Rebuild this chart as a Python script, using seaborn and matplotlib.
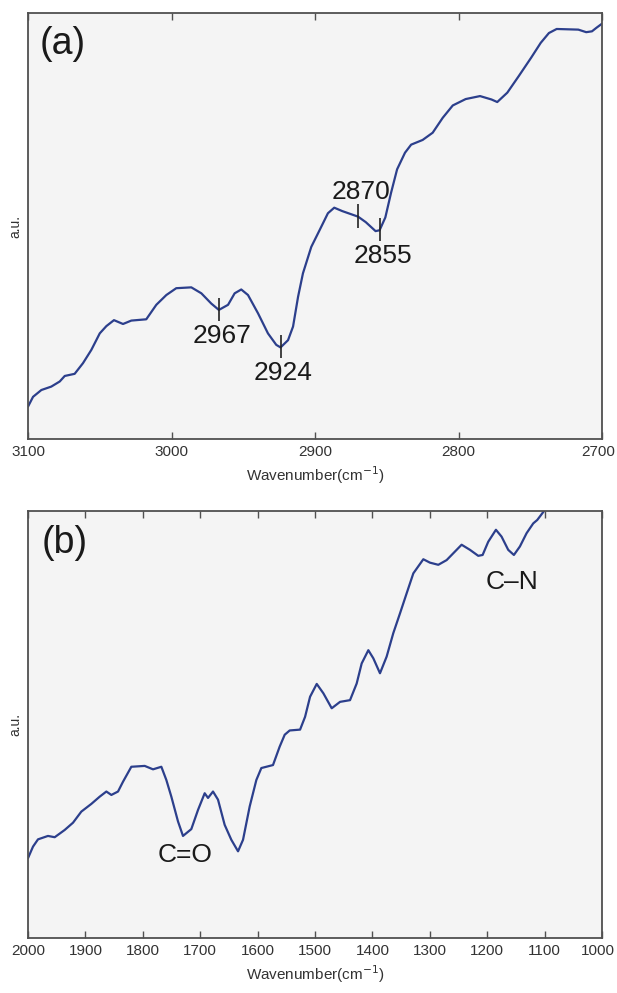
import matplotlib
matplotlib.use("Agg")
import matplotlib.pyplot as plt
import matplotlib.transforms as mtransforms
import seaborn as sns
import pandas as pd

# ---- Spectrum (a): C-H stretching region ----
wn_a = [3100, 3096.5, 3090.7, 3083.8, 3077.9, 3074.4, 3067.5, 3061.7, 3055.9,
        3050, 3045.4, 3040.1, 3033.8, 3028, 3017.6, 3010.6, 3003.6, 2996.7,
        2986.2, 2979.2, 2972.3, 2967, 2960.6, 2956, 2951.4, 2946.7, 2939.7,
        2932.8, 2927, 2924, 2918.8, 2915.3, 2911.8, 2908.4, 2902.6, 2896.7,
        2891, 2886.6, 2881, 2870, 2864.6, 2857.8, 2855, 2851, 2847, 2842.8,
        2837.3, 2833, 2825, 2818, 2811, 2804, 2795, 2785, 2777, 2773, 2766,
        2758, 2749.4, 2742.7, 2737, 2731.6, 2716.5, 2711, 2707, 2704, 2700]
int_a = [7.6, 9.9, 11.5, 12.3, 13.5, 14.8, 15.3, 17.8, 20.9,
         24.8, 26.5, 27.9, 27.0, 27.8, 28.1, 31.5, 33.8, 35.4,
         35.6, 34.2, 31.8, 30.3, 31.5, 34.2, 35.1, 33.8, 29.5,
         24.8, 22.1, 21.5, 23.2, 26.4, 33.4, 38.9, 45.1, 49.1,
         53.0, 54.3, 53.5, 52.2, 50.9, 48.8, 49.0, 52.0, 57.8, 63.3,
         67.2, 69.1, 70.2, 71.9, 75.4, 78.3, 79.8, 80.5, 79.7, 79.1, 81.3,
         85.2, 89.5, 93.0, 95.3, 96.25, 96.1, 95.5, 95.7, 96.5, 97.5]
peaks_a = [2967, 2924, 2870, 2855]
peak_labels_a = ["2967", "2924", "2870", "2855"]

# ---- Spectrum (b): fingerprint region ----
wn_b = [2000, 1991.3, 1982.6, 1965.2, 1953.5, 1936.1, 1921.6, 1907.1, 1889.7,
        1875.1, 1863.5, 1854.8, 1843.2, 1834.5, 1820, 1796.7, 1782.2, 1767.7,
        1759, 1750.3, 1738.7, 1730, 1715.5, 1703.8, 1692.2, 1686.4, 1677.7,
        1669, 1657.4, 1645.8, 1634.1, 1625.4, 1613.8, 1602.2, 1593.5, 1573.2,
        1561.6, 1552.8, 1544.1, 1526, 1517.3, 1508.6, 1497, 1485.4, 1470.9,
        1456.4, 1439, 1427.4, 1418.7, 1407.1, 1398.4, 1386.8, 1375.2, 1363.6,
        1352, 1340.4, 1328.7, 1311.3, 1299.7, 1285.2, 1270.7, 1256.2, 1244.6,
        1230, 1215.6, 1208, 1198.2, 1184.8, 1175, 1163.4, 1153.5, 1143,
        1131.4, 1119.8, 1112.8, 1101]
int_b = [18.7, 21.4, 23.1, 23.9, 23.6, 25.3, 27.0, 29.6, 31.4,
         33.1, 34.3, 33.5, 34.3, 36.6, 40.1, 40.3, 39.5, 40.1,
         37.0, 33.1, 27.3, 23.9, 25.5, 30.0, 33.9, 32.8, 34.3,
         32.4, 26.5, 23.0, 20.3, 23.0, 30.8, 37.0, 39.8, 40.5,
         44.8, 47.6, 48.6, 48.8, 51.8, 56.5, 59.5, 57.3, 53.8,
         55.3, 55.7, 59.6, 64.3, 67.4, 65.5, 62.0, 65.9, 71.4,
         76.0, 80.7, 85.4, 88.7, 87.9, 87.4, 88.5, 90.5, 92.1,
         90.9, 89.5, 89.7, 92.8, 95.6, 94.0, 90.9, 89.7, 91.7,
         94.8, 97.1, 97.9, 100.0]
bands_b = ["C=O", "C\u2013N"]
band_pos_b = [1727, 1156]

ticks_a = [3100, 3000, 2900, 2800, 2700]
ticks_b = [2000, 1900, 1800, 1700, 1600, 1500, 1400, 1300, 1200, 1100, 1000]

sns.set_theme(style="white")
plt.rcParams["font.family"] = ["Liberation Sans", "DejaVu Sans"]

line_color = "#2c3f8c"
spine_color = "#505050"
text_color = "#333333"
face = "#f4f4f4"

fig = plt.figure(figsize=(6.17, 9.93), dpi=100, facecolor="white")
ax_a = fig.add_axes([0.0454, 0.5579, 0.9303, 0.4290])
ax_b = fig.add_axes([0.0454, 0.0554, 0.9303, 0.4300])

df_a = pd.DataFrame({"wn": wn_a, "val": int_a})
df_b = pd.DataFrame({"wn": wn_b, "val": int_b})

sns.lineplot(data=df_a, x="wn", y="val", ax=ax_a, color=line_color, lw=1.6,
             sort=False, estimator=None)
sns.lineplot(data=df_b, x="wn", y="val", ax=ax_b, color=line_color, lw=1.6,
             sort=False, estimator=None)


def style_axes(ax, xlo, xhi, ticks):
    ax.set_facecolor(face)
    ax.set_xlim(xlo, xhi)
    ax.set_ylim(0, 100)
    ax.set_xticks(ticks)
    ax.set_xticklabels([str(t) for t in ticks], fontsize=11, color=text_color)
    ax.set_yticks([])
    ax.tick_params(axis="x", direction="in", length=4.8, width=1.0,
                   color=spine_color, top=True, bottom=True, pad=4)
    for s in ax.spines.values():
        s.set_visible(True)
        s.set_color(spine_color)
        s.set_linewidth(1.3)
    ax.set_xlabel("Wavenumber(cm$^{-1}$)", fontsize=11, color=text_color,
                  labelpad=4)
    ax.set_ylabel("a.u.", fontsize=10, color=text_color, labelpad=4)


style_axes(ax_a, 3100, 2700, ticks_a)
style_axes(ax_b, 2000, 1000, ticks_b)

# Peak markers and labels for (a)
lookup_a = dict(zip(wn_a, int_a))
for p in peaks_a:
    y0 = lookup_a[p]
    ax_a.vlines(p, y0 - 2.6, y0 + 2.9, color="#222222", lw=1.2)
for p, lab in zip(peaks_a, peak_labels_a):
    y0 = lookup_a[p]
    if lab == "2870":
        ax_a.text(p - 2, y0 + 3.0, lab, ha="center", va="bottom", fontsize=19,
                  color="#1a1a1a")
    else:
        ax_a.text(p - 2, y0 - 3.2, lab, ha="center", va="top", fontsize=19,
                  color="#1a1a1a")

# Band labels for (b)
ax_b.text(band_pos_b[0], 22.3, bands_b[0], ha="center", va="top", fontsize=19,
          color="#1a1a1a")
ax_b.text(band_pos_b[1], 86.2, bands_b[1], ha="center", va="top", fontsize=19,
          color="#1a1a1a")

ax_a.text(0.061, 0.927, "(a)", transform=ax_a.transAxes, ha="center",
          va="center", fontsize=27, color="#1a1a1a")
ax_b.text(0.064, 0.925, "(b)", transform=ax_b.transAxes, ha="center",
          va="center", fontsize=27, color="#1a1a1a")

# Keep the rightmost tick label inside the figure edge
fig.canvas.draw()
renderer = fig.canvas.get_renderer()
width_px = fig.get_figwidth() * fig.dpi
for ax in (ax_a, ax_b):
    last = ax.get_xticklabels()[-1]
    bb = last.get_window_extent(renderer)
    overflow = bb.x1 - (width_px - 2)
    if overflow > 0:
        shift = mtransforms.ScaledTranslation(-overflow / fig.dpi, 0,
                                              fig.dpi_scale_trans)
        last.set_transform(last.get_transform() + shift)

fig.savefig("out.png", dpi=100, facecolor="white")
